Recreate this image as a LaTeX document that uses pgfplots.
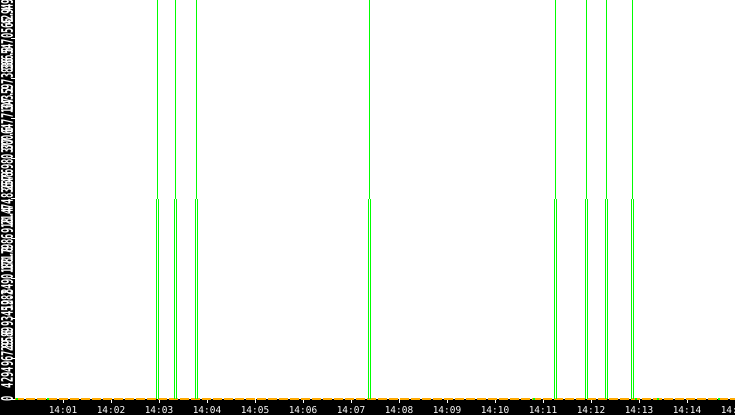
\documentclass[border=0pt]{standalone}
\usepackage{pgfplots}
\usepackage{pgfplotstable}
\pgfplotsset{compat=1.18}
\usepackage{graphicx}
\usepackage{fontspec}
\newfontfamily\mono{DejaVu Sans Mono}
\definecolor{spike}{RGB}{0,255,0}
\definecolor{zero}{RGB}{255,170,0}
% narrow the y labels like the original
\newcommand\yl[1]{\scalebox{0.55}[1]{#1}}

% event times, minutes after 14:00, and the level of the lower strokes
\pgfplotstableread{
t h
2.96875 2147483648
3.34375 2147483648
3.78125 2147483648
7.38542 2147483648
11.26042 2147483648
11.90625 2147483648
12.32292 2147483648
12.86458 2147483648
}\events

\begin{document}
\begin{tikzpicture}
\path[use as bounding box, clip] (0,0) rectangle (735bp,415bp);
\fill[black] (0,0) rectangle (735bp,415bp);
\begin{axis}[
    at={(15bp,16bp)}, anchor=south west,
    scale only axis, width=720bp, height=400bp,
    xmin=0, xmax=15, ymin=0, ymax=4294967296,
    axis background/.style={fill=white},
    axis line style={draw=none},
    clip=false, unbounded coords=jump,
    tick align=outside, major tick length=4bp,
    tick style={white, line width=1bp},
    xtick pos=bottom, ytick pos=left,
    xtick={1,2,3,4,5,6,7,8,9,10,11,12,13,14,15},
    xticklabels={14:01,14:02,14:03,14:04,14:05,14:06,14:07,14:08,14:09,14:10,14:11,14:12,14:13,14:14,14:15},
    ytick={0,429496729.6,858993459.2,1288490188.8,1717986918.4,2147483648,2576980377.6,3006477107.2,3435973836.8,3865470566.4,4294967296},
    yticklabels={\yl{0},\yl{429496729.6},\yl{858993459.2},\yl{1288490188.8},\yl{1717986918.4},\yl{2147483648},\yl{2576980377.6},\yl{3006477107.2},\yl{3435973836.8},\yl{3865470566.4},\yl{4294967296}},
    scaled y ticks=false,
    x tick label style={font=\fontsize{9.5}{9.5}\mono, text=white, anchor=base, inner sep=0pt, yshift=-10bp},
    y tick label style={font=\fontsize{16}{16}\mono\bfseries, text=white, xshift=2bp, rotate=90, anchor=base, inner sep=0pt},
]
% zero line
\addplot[zero, line width=1.6bp, dash pattern=on 9bp off 2bp] coordinates {(0,0) (15,0)};
\addplot[spike, line width=1.6bp] coordinates {
  (0.02,0) (0.06,0) (0.06,nan)
  (0.67,0) (0.71,0) (0.71,nan)
  (10.79,0) (10.83,0) (10.83,nan)
  (12.92,0) (12.96,0) (12.96,nan)
  (13.375,0) (13.415,0) (13.415,nan)
  (14.65,0) (14.69,0)};
% lower double strokes up to 2^31
\addplot[spike, ycomb, line width=1bp, no marks] table[x expr=\thisrow{t}-0.0208, y=h] {\events};
\addplot[spike, ycomb, line width=1bp, no marks] table[x expr=\thisrow{t}+0.0208, y=h] {\events};
% single stroke from 2^31 to the top
\addplot[spike, line width=1bp] coordinates {
  (2.96875,2147483648) (2.96875,4294967296) (2.96875,nan)
  (3.34375,2147483648) (3.34375,4294967296) (3.34375,nan)
  (3.78125,2147483648) (3.78125,4294967296) (3.78125,nan)
  (7.38542,2147483648) (7.38542,4294967296) (7.38542,nan)
  (11.26042,2147483648) (11.26042,4294967296) (11.26042,nan)
  (11.90625,2147483648) (11.90625,4294967296) (11.90625,nan)
  (12.32292,2147483648) (12.32292,4294967296) (12.32292,nan)
  (12.86458,2147483648) (12.86458,4294967296)};
\end{axis}
\end{tikzpicture}
\end{document}
